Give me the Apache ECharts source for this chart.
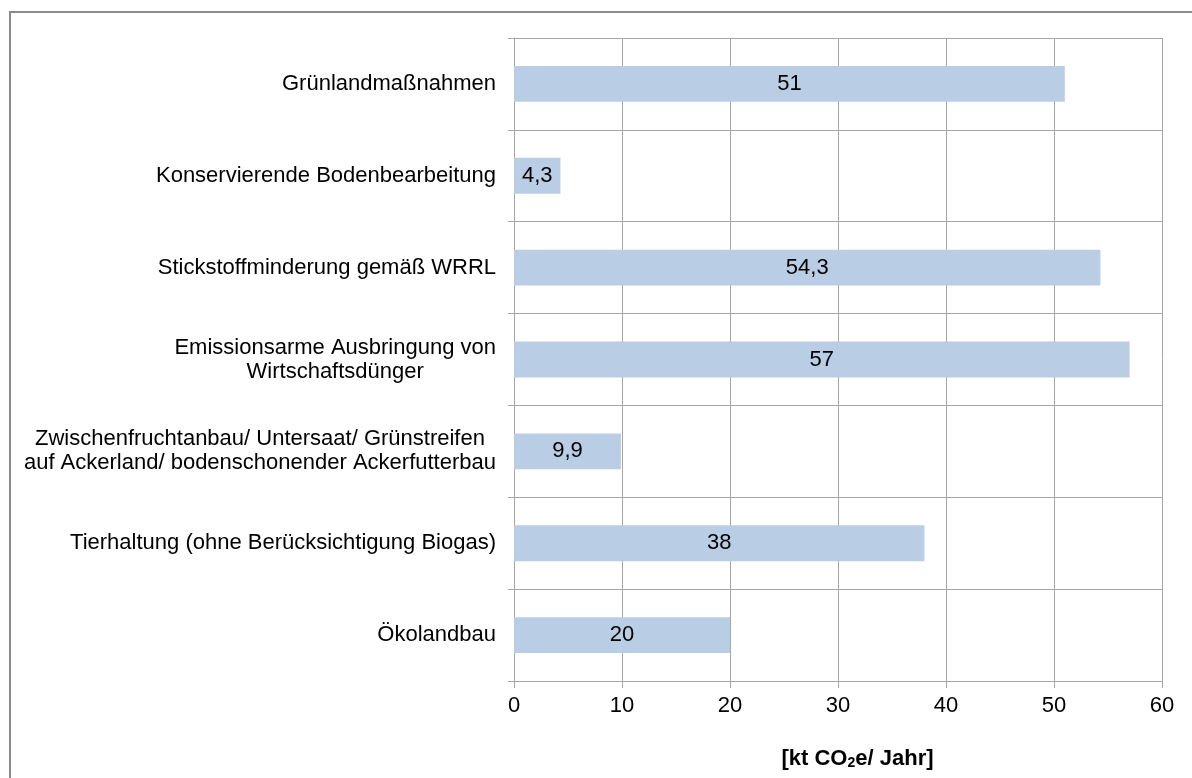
<!DOCTYPE html>
<html>
<head>
<meta charset="utf-8">
<script src="https://cdn.jsdelivr.net/npm/echarts@6/dist/echarts.min.js"></script>
<style>
html,body{margin:0;padding:0;background:#fff;}
#chart{width:1192px;height:778px;}
</style>
</head>
<body>
<div id="chart"></div>
<script>
const categories = [
  "Grünlandmaßnahmen",
  "Konservierende Bodenbearbeitung",
  "Stickstoffminderung gemäß WRRL",
  "Emissionsarme Ausbringung von\nWirtschaftsdünger",
  "Zwischenfruchtanbau/ Untersaat/ Grünstreifen\nauf Ackerland/ bodenschonender Ackerfutterbau",
  "Tierhaltung (ohne Berücksichtigung Biogas)",
  "Ökolandbau"
];
const values = [51, 4.3, 54.3, 57, 9.9, 38, 20];
const xTicks = [0, 10, 20, 30, 40, 50, 60];

const FONT = '"Liberation Sans", Arial, sans-serif';
const GRID = '#a6a6a6';

const chart = echarts.init(document.getElementById('chart'), null, {renderer: 'canvas'});
chart.setOption({
  animation: false,
  backgroundColor: '#fff',
  graphic: [{
    type: 'rect',
    shape: {x: 10, y: 12, width: 1300, height: 900},
    style: {fill: 'none', stroke: '#8a8a8a', lineWidth: 2},
    silent: true
  }],
  grid: {left: 514, right: 30, top: 38, bottom: 97, containLabel: false},
  xAxis: {
    type: 'value',
    min: xTicks[0],
    max: xTicks[xTicks.length - 1],
    interval: xTicks[1] - xTicks[0],
    axisLine: {show: true, lineStyle: {color: GRID, width: 1}},
    axisTick: {show: true, length: 7, lineStyle: {color: GRID}},
    splitLine: {show: true, lineStyle: {color: GRID, width: 1}},
    axisLabel: {color: '#000', fontFamily: FONT, fontSize: 22, margin: 14},
    name: '{b|[kt CO}{s|2}{b|e/ Jahr]}',
    nameLocation: 'middle',
    nameGap: 63,
    nameTextStyle: {
      padding: [0, 0, 0, 39],
      rich: {
        b: {fontFamily: FONT, fontSize: 22, fontWeight: 'bold', color: '#000', verticalAlign: 'bottom', lineHeight: 26},
        s: {fontFamily: FONT, fontSize: 14, fontWeight: 'bold', color: '#000', verticalAlign: 'bottom', lineHeight: 20}
      }
    }
  },
  yAxis: {
    type: 'category',
    data: categories,
    inverse: true,
    axisLine: {show: true, lineStyle: {color: GRID, width: 1}},
    axisTick: {show: true, length: 6, lineStyle: {color: GRID}},
    splitLine: {show: true, lineStyle: {color: GRID, width: 1}},
    axisLabel: {
      margin: 18,
      formatter: function (v) {
        return v.split('\n').map(function (l) { return '{c|' + l + '}'; }).join('\n');
      },
      rich: {
        c: {align: 'center', fontFamily: FONT, fontSize: 22, color: '#000', lineHeight: 24}
      }
    }
  },
  series: [{
    type: 'bar',
    data: values,
    barWidth: '39%',
    itemStyle: {color: '#b9cde5'},
    label: {
      show: true,
      position: 'inside',
      color: '#000',
      fontFamily: FONT,
      fontSize: 22,
      formatter: function (p) { return String(p.value).replace('.', ','); }
    }
  }]
});
</script>
</body>
</html>
